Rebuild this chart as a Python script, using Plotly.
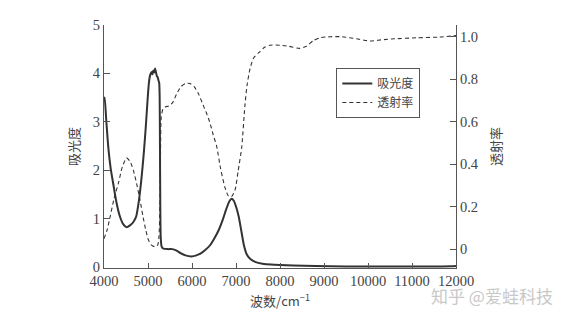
import plotly.graph_objects as go

abs_x = [4000, 4015, 4050, 4100, 4150, 4210, 4280, 4360, 4440, 4515, 4590, 4660, 4730, 4790, 4840, 4880,
         4910, 4950, 4990, 5020, 5050, 5080, 5100, 5120, 5140, 5160, 5180, 5200, 5220, 5240, 5255, 5265,
         5272, 5280, 5290, 5310, 5350, 5450, 5550, 5650, 5750, 5850, 5990, 6100, 6200, 6300, 6410, 6500,
         6600, 6700, 6780, 6850, 6900, 6950, 7000, 7060, 7120, 7180, 7240, 7320, 7450, 7600, 7800, 8000,
         8300, 8800, 9500, 10500, 11500, 11900, 12000]
abs_y = [3.45, 3.5, 3.05, 2.45, 2.05, 1.72, 1.35, 1.05, 0.88, 0.82, 0.86, 0.92, 1.04, 1.35, 1.73, 2.1,
         2.42, 2.9, 3.45, 3.8, 3.97, 4.03, 3.98, 4.06, 4.02, 4.1, 4.03, 3.95, 3.92, 3.85, 3.8, 3.5,
         2.5, 1.2, 0.6, 0.42, 0.38, 0.37, 0.37, 0.34, 0.28, 0.24, 0.22, 0.24, 0.28, 0.35, 0.45, 0.58,
         0.75, 0.98, 1.2, 1.36, 1.41, 1.37, 1.25, 1.05, 0.75, 0.45, 0.27, 0.17, 0.1, 0.07, 0.05, 0.04,
         0.03, 0.02, 0.01, 0.01, 0.01, 0.015, 0.02]

tr_x = [4000, 4070, 4136, 4230, 4326, 4420, 4515, 4600, 4670, 4740, 4820, 4890, 4950, 5008, 5080, 5160,
        5220, 5250, 5270, 5285, 5300, 5340, 5400, 5480, 5560, 5650, 5750, 5850, 5950, 6050, 6150, 6250,
        6330, 6400, 6480, 6560, 6650, 6750, 6830, 6900, 6980, 7050, 7130, 7200, 7250, 7320, 7400, 7545,
        7650, 7770, 8000, 8200, 8450, 8600, 8750, 8910, 9150, 9400, 9740, 10045, 10300, 10600, 11100,
        11600, 12000]
tr_y = [0.05, 0.09, 0.15, 0.24, 0.31, 0.39, 0.43, 0.41, 0.37, 0.31, 0.23, 0.15, 0.09, 0.045, 0.02, 0.012,
        0.02, 0.06, 0.2, 0.45, 0.62, 0.66, 0.67, 0.675, 0.69, 0.73, 0.765, 0.78, 0.78, 0.765, 0.73, 0.68,
        0.64, 0.6, 0.54, 0.485, 0.38, 0.29, 0.25, 0.248, 0.28, 0.37, 0.48, 0.67, 0.77, 0.85, 0.9, 0.93,
        0.95, 0.96, 0.96, 0.955, 0.945, 0.955, 0.98, 0.995, 1.0, 1.0, 0.99, 0.98, 0.985, 0.99, 0.995,
        0.998, 1.005]

x_ticks = [4000, 5000, 6000, 7000, 8000, 9000, 10000, 11000, 12000]
x_tick_text = ["4000", "5000", "6000", "7000", "8000", "9000", "10000", "11000", "12000"]
left_ticks = [0, 1, 2, 3, 4, 5]
right_ticks = [0, 0.2, 0.4, 0.6, 0.8, 1.0]
right_tick_text = ["0", "0.2", "0.4", "0.6", "0.8", "1.0"]

line_col = "#333333"
axis_col = "#555555"
text_col = "#444444"
serif = "Liberation Serif"
cjk = "Noto Sans CJK SC"

fig = go.Figure()
fig.add_trace(go.Scatter(x=abs_x, y=abs_y, mode="lines", name="吸光度",
                         line=dict(color=line_col, width=2, shape="spline", smoothing=0.6)))
fig.add_trace(go.Scatter(x=tr_x, y=tr_y, mode="lines", name="透射率", yaxis="y2",
                         line=dict(color=line_col, width=1.1, dash="4px,3px", shape="spline", smoothing=0.6)))

fig.update_layout(
    width=565, height=320,
    margin=dict(l=104, r=109, t=25, b=52),
    paper_bgcolor="white", plot_bgcolor="white",
    showlegend=True,
    legend=dict(x=0.66, y=0.823, xanchor="left", yanchor="top",
                bordercolor=axis_col, borderwidth=1, bgcolor="white",
                font=dict(family=cjk, size=12, color=text_col),
                tracegroupgap=0, itemwidth=30),
    xaxis=dict(range=[4000, 12000], tickvals=x_ticks, ticktext=x_tick_text, ticks="inside", ticklen=5,
               tickcolor=axis_col, showline=True, linecolor=axis_col, linewidth=1,
               showgrid=False, zeroline=False,
               tickfont=dict(family=serif, size=14.5, color=text_col),
               title=dict(text="波数/cm<sup>−1</sup>", font=dict(family=cjk, size=13, color=text_col), standoff=8)),
    yaxis=dict(range=[-0.02, 5], tickvals=left_ticks, ticks="inside", ticklen=6,
               tickcolor=axis_col, showline=True, linecolor=axis_col, linewidth=1,
               showgrid=False, zeroline=False,
               tickfont=dict(family=serif, size=14.5, color=text_col),
               title=dict(text="吸光度", font=dict(family=cjk, size=13, color=text_col), standoff=10)),
    yaxis2=dict(range=[-0.088, 1.055], tickvals=right_ticks, ticktext=right_tick_text,
                overlaying="y", side="right", ticks="inside", ticklen=6,
                tickcolor=axis_col, showline=True, linecolor=axis_col, linewidth=1,
                showgrid=False, zeroline=False,
                tickfont=dict(family=serif, size=14.5, color=text_col),
                title=dict(text="透射率", font=dict(family=cjk, size=13, color=text_col), standoff=14)),
)

fig.add_annotation(text="知乎 @爱蛙科技", xref="paper", yref="paper", x=1.28, y=-0.115,
                   xanchor="right", yanchor="middle", showarrow=False,
                   font=dict(family=cjk, size=17, color="#c8c8c8"))

fig.write_html("out.html")
